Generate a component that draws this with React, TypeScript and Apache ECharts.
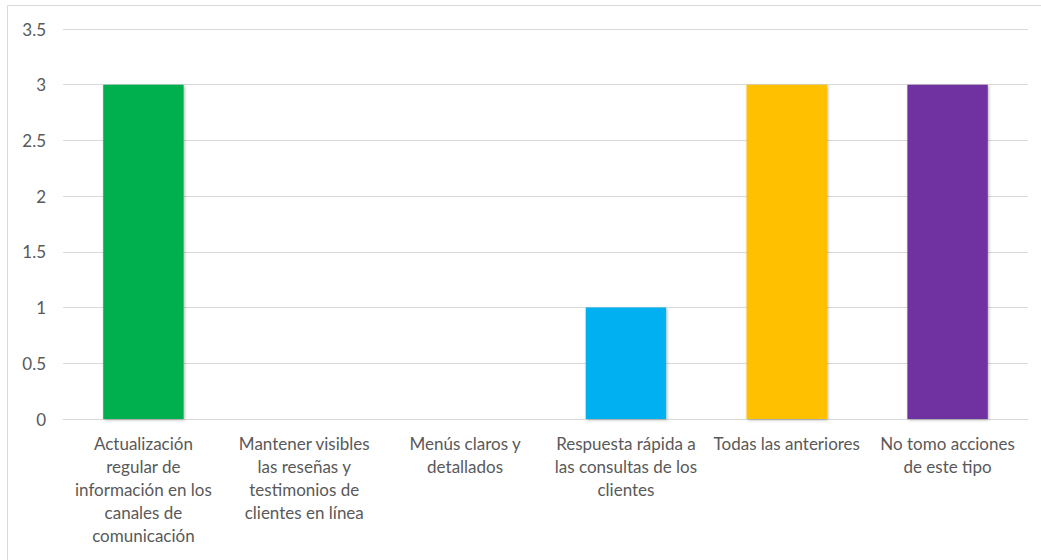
import React, { useEffect, useRef } from "react";
import * as echarts from "echarts";

const categories = [
  "Actualización\nregular de\ninformación en los\ncanales de\ncomunicación",
  "Mantener visibles\nlas reseñas y\ntestimonios de\nclientes en línea",
  "Menús claros y\ndetallados",
  "Respuesta rápida a\nlas consultas de los\nclientes",
  "Todas las anteriores",
  "No tomo acciones\nde este tipo",
];
const values = [3, 0, 0, 1, 3, 3];
const colors = ["#00B050", "#4472C4", "#ED7D31", "#00B0F0", "#FFC000", "#7030A0"];
const yTicks = [0, 0.5, 1, 1.5, 2, 2.5, 3, 3.5];

export default function App() {
  const ref = useRef<HTMLDivElement>(null);
  useEffect(() => {
    document.body.style.margin = "0";
    const chart = echarts.init(ref.current!, null, { renderer: "svg" });
    chart.setOption({
      animation: false,
      textStyle: { fontFamily: "Lato, 'Open Sans', sans-serif" },
      graphic: [
        {
          type: "rect",
          shape: { x: 7.5, y: 5.5, width: 1040, height: 600 },
          style: { fill: "none", stroke: "#d9d9d9", lineWidth: 1 },
          silent: true,
        },
      ],
      grid: { left: 63, right: 13, top: 29, bottom: 141, containLabel: false },
      xAxis: {
        type: "category",
        data: categories,
        axisLine: { show: true, lineStyle: { color: "#d9d9d9", width: 1 } },
        axisTick: { show: false },
        axisLabel: {
          interval: 0,
          color: "#595959",
          fontSize: 17,
          lineHeight: 23,
          margin: 13,
          align: "center",
        },
      },
      yAxis: {
        type: "value",
        min: 0,
        max: 3.5,
        interval: 0.5,
        axisLine: { show: false },
        axisTick: { show: false },
        splitLine: { lineStyle: { color: "#d9d9d9", width: 1 } },
        axisLabel: {
          color: "#595959",
          fontSize: 17,
          margin: 17,
          formatter: (v: number) => (yTicks.includes(v) ? String(v) : ""),
        },
      },
      series: [
        {
          type: "bar",
          data: values.map((v, i) => ({ value: v, itemStyle: { color: colors[i] } })),
          barWidth: "50%",
          itemStyle: {
            shadowColor: "rgba(0,0,0,0.3)",
            shadowBlur: 3,
            shadowOffsetX: 1,
            shadowOffsetY: 1,
          },
        },
      ],
    });
    return () => chart.dispose();
  }, []);
  return <div ref={ref} style={{ width: 1041, height: 560 }} />;
}
